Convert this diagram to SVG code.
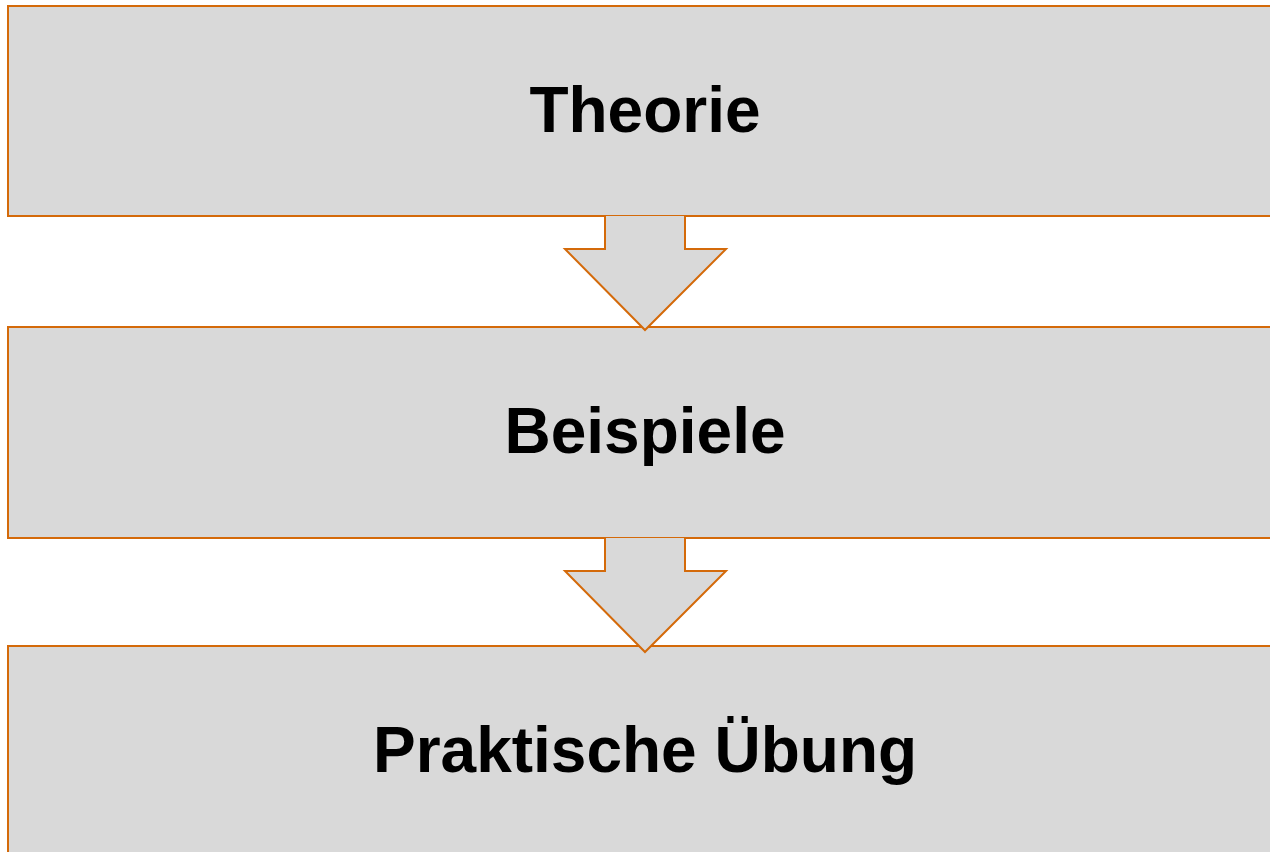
<svg xmlns="http://www.w3.org/2000/svg" width="1270" height="852" viewBox="0 0 1270 852">
<style>
.box{fill:#D9D9D9;stroke:#D46A0A;stroke-width:2}
.arr{fill:#D9D9D9;stroke:#D46A0A;stroke-width:2;stroke-linejoin:miter}
.lbl{font-family:"Liberation Sans",Arial,sans-serif;font-weight:bold;font-size:64px;fill:#000;text-anchor:middle}
</style>
<rect width="1270" height="852" fill="#FFFFFF"/>
<g id="node-theorie">
<rect class="box" x="8" y="6" width="1280" height="210"/>
<text class="lbl" x="645" y="132">Theorie</text>
</g>
<g id="node-beispiele">
<rect class="box" x="8" y="327" width="1280" height="211"/>
<text class="lbl" x="645" y="453">Beispiele</text>
</g>
<g id="node-uebung">
<rect class="box" x="8" y="646" width="1280" height="230"/>
<text class="lbl" x="645" y="772">Praktische Übung</text>
</g>
<g id="connectors">
<path class="arr" d="M605,216 L605,249 L565,249 L645,330 L726,249 L685,249 L685,216"/>
<path class="arr" d="M605,538 L605,571 L565,571 L645,652 L726,571 L685,571 L685,538"/>
</g>
</svg>
